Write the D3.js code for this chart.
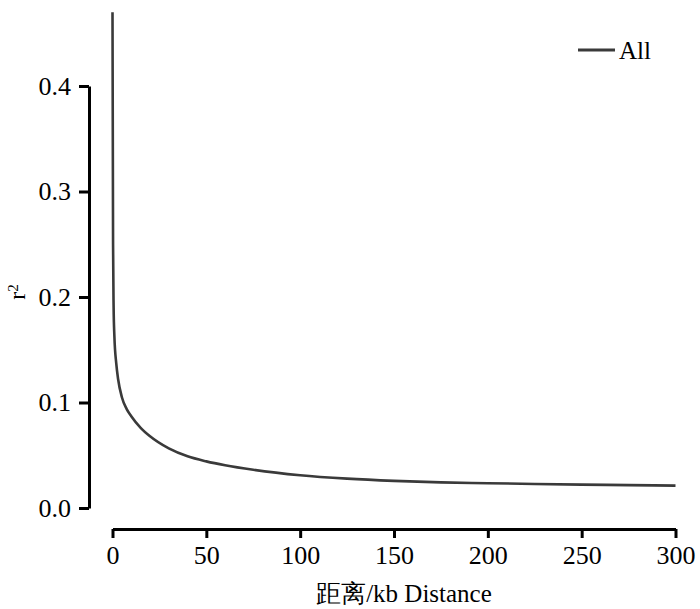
<!DOCTYPE html>
<html><head><meta charset="utf-8">
<script src="https://cdn.jsdelivr.net/npm/d3@7"></script>
<style>body{margin:0;background:#fff}svg{display:block}</style>
</head><body><svg id="c" width="700" height="609"></svg>
<script>
const distances = [0, 0.3, 0.6, 1, 2, 3, 5, 7.5, 10, 15, 20, 30, 40, 50, 60, 75, 100, 125, 150, 175, 200, 225, 250, 275, 300];
const r2Values  = [0.47, 0.25, 0.19, 0.163, 0.137, 0.122, 0.105, 0.094, 0.087, 0.076, 0.068, 0.0565, 0.049, 0.0442, 0.0405, 0.0362, 0.031, 0.0278, 0.0257, 0.0243, 0.0235, 0.0228, 0.0222, 0.0217, 0.0212];
const xTicks = [0, 50, 100, 150, 200, 250, 300];
const yTicks = [0.0, 0.1, 0.2, 0.3, 0.4];
const seriesName = "All";
const xTitle = "距离/kb Distance";
const yTitle = "r";

const svg = d3.select("#c");
const x = d3.scaleLinear().domain([0, 300]).range([112.5, 675.5]);
const y = d3.scaleLinear().domain([0, 0.4]).range([508, 86]);
const font = "'Liberation Serif','Times New Roman',serif";

const xAxis = svg.append("g").attr("transform", "translate(0,529)")
  .call(d3.axisBottom(x).tickValues(xTicks).tickFormat(d3.format("d")).tickSize(9).tickSizeOuter(0).tickPadding(8));
const yAxis = svg.append("g").attr("transform", "translate(89,0)")
  .call(d3.axisLeft(y).tickValues(yTicks).tickFormat(d3.format(".1f")).tickSize(10).tickSizeOuter(0).tickPadding(8));
[xAxis, yAxis].forEach(g => {
  g.select(".domain").attr("stroke", "#000").attr("stroke-width", 3);
  g.selectAll(".tick line").attr("stroke", "#000").attr("stroke-width", 3);
  g.selectAll(".tick text").attr("fill", "#000").style("font-family", font).style("font-size", "26px");
});
xAxis.selectAll(".tick text").attr("dy", "0.71em");

const line = d3.line().x((d, i) => x(distances[i])).y(d => y(d)).curve(d3.curveMonotoneX);
svg.append("path").datum(r2Values).attr("d", line)
  .attr("fill", "none").attr("stroke", "#3a3a3a").attr("stroke-width", 2.6);

// legend
svg.append("line").attr("x1", 578).attr("x2", 615).attr("y1", 50).attr("y2", 50)
  .attr("stroke", "#3a3a3a").attr("stroke-width", 3);
svg.append("text").attr("x", 619).attr("y", 59).text(seriesName)
  .style("font-family", font).style("font-size", "25px").attr("fill", "#000");

// axis titles
svg.append("text").attr("x", 404).attr("y", 602).attr("text-anchor", "middle")
  .style("font-family", font).style("font-size", "25px").attr("fill", "#000").text(xTitle);
const yt = svg.append("text").attr("transform", "translate(25,292) rotate(-90)").attr("text-anchor", "middle")
  .style("font-family", font).style("font-size", "24px").attr("fill", "#000");
yt.append("tspan").text(yTitle);
yt.append("tspan").attr("dy", "-0.45em").style("font-size", "15px").text("2");
</script></body></html>
